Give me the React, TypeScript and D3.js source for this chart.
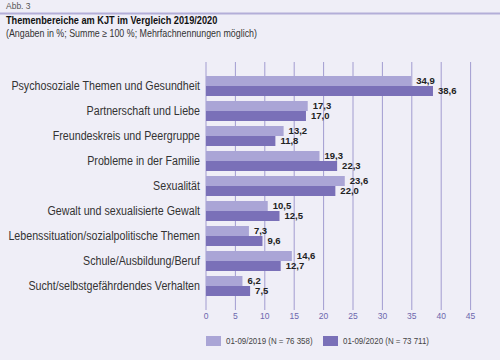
import * as React from 'react';
import { useEffect, useRef } from 'react';
import * as d3 from 'd3';

// Data
const categories = [
  'Psychosoziale Themen und Gesundheit',
  'Partnerschaft und Liebe',
  'Freundeskreis und Peergruppe',
  'Probleme in der Familie',
  'Sexualität',
  'Gewalt und sexualisierte Gewalt',
  'Lebenssituation/sozialpolitische Themen',
  'Schule/Ausbildung/Beruf',
  'Sucht/selbstgefährdendes Verhalten',
];
const values2019 = [34.9, 17.3, 13.2, 19.3, 23.6, 10.5, 7.3, 14.6, 6.2];
const values2020 = [38.6, 17.0, 11.8, 22.3, 22.0, 12.5, 9.6, 12.7, 7.5];
const seriesLabels = ['01-09/2019 (N = 76 358)', '01-09/2020 (N = 73 711)'];
const xTicks = [0, 5, 10, 15, 20, 25, 30, 35, 40, 45];

const W = 500;
const H = 360;
const FONT = '"Liberation Sans", Arial, sans-serif';
const colors = ['#aaa5d6', '#7a70b8'];

const fmt = (v: number) => v.toFixed(1).replace('.', ',');

// squeeze text horizontally to mimic the condensed face of the original
function condense(sel: d3.Selection<SVGTextElement, any, any, any>, factor: number) {
  sel.each(function () {
    const len = this.getComputedTextLength();
    d3.select(this).attr('textLength', len * factor).attr('lengthAdjust', 'spacingAndGlyphs');
  });
}

const App: React.FC = () => {
  const svgRef = useRef<SVGSVGElement>(null);

  useEffect(() => {
    const svg = d3.select(svgRef.current);
    svg.selectAll('*').remove();

    svg.append('rect').attr('width', W).attr('height', H).attr('fill', '#efeef7');

    // header
    svg.append('text').attr('x', 6).attr('y', 9)
      .attr('font-family', FONT).attr('font-size', 8.5).attr('fill', '#555')
      .text('Abb. 3');
    svg.append('rect').attr('x', 0).attr('y', 12.5).attr('width', W).attr('height', 2)
      .attr('fill', '#b3aed8');
    const title = svg.append('text').attr('x', 6).attr('y', 24)
      .attr('font-family', FONT).attr('font-size', 11).attr('font-weight', 'bold').attr('fill', '#111')
      .text('Themenbereiche am KJT im Vergleich 2019/2020');
    condense(title, 212 / 254);
    const sub = svg.append('text').attr('x', 6).attr('y', 37)
      .attr('font-family', FONT).attr('font-size', 10.5).attr('fill', '#333')
      .text('(Angaben in %; Summe ≥ 100 %; Mehrfachnennungen möglich)');
    condense(sub, 0.845);

    const x = d3.scaleLinear().domain([0, 45]).range([206, 470.6]);
    const y = d3.scaleBand<string>().domain(categories).range([73.5, 298.5]).paddingInner(0.2).paddingOuter(0.1);
    const inner = d3.scaleBand<number>().domain([0, 1]).range([0, y.bandwidth()]);

    // grid
    svg.append('g').selectAll('line').data(xTicks).enter().append('line')
      .attr('x1', d => x(d)).attr('x2', d => x(d))
      .attr('y1', 62).attr('y2', 310)
      .attr('stroke', '#a29cd0').attr('stroke-width', 1);

    svg.append('g').selectAll('text').data(xTicks).enter().append('text')
      .attr('x', d => x(d)).attr('y', 319)
      .attr('text-anchor', 'middle')
      .attr('font-family', FONT).attr('font-size', 8.5).attr('fill', '#6d67ad')
      .text(d => String(d));

    // category labels
    const cats = svg.append('g').selectAll('text').data(categories).enter().append('text')
      .attr('x', 200).attr('y', d => (y(d) ?? 0) + y.bandwidth() / 2)
      .attr('dy', '0.35em')
      .attr('text-anchor', 'end')
      .attr('font-family', FONT).attr('font-size', 12).attr('fill', '#333')
      .text(d => d);
    condense(cats as any, 0.89);

    const series = [values2019, values2020];
    series.forEach((vals, s) => {
      const g = svg.append('g');
      g.selectAll('rect').data(vals).enter().append('rect')
        .attr('x', x(0))
        .attr('y', (_, i) => (y(categories[i]) ?? 0) + (inner(s) ?? 0))
        .attr('width', d => x(d) - x(0))
        .attr('height', inner.bandwidth())
        .attr('fill', colors[s]);
      g.selectAll('text').data(vals).enter().append('text')
        .attr('x', d => x(d) + 5)
        .attr('y', (_, i) => (y(categories[i]) ?? 0) + (inner(s) ?? 0) + inner.bandwidth() / 2)
        .attr('dy', '0.35em')
        .attr('font-family', FONT).attr('font-size', 9.5).attr('font-weight', 'bold').attr('fill', '#222')
        .text(d => fmt(d));
    });

    // legend
    const lx = [206, 323];
    seriesLabels.forEach((t, i) => {
      svg.append('rect').attr('x', lx[i]).attr('y', 336).attr('width', 15).attr('height', 10)
        .attr('fill', colors[i]);
      const lt = svg.append('text').attr('x', lx[i] + 20).attr('y', 341).attr('dy', '0.35em')
        .attr('font-family', FONT).attr('font-size', 9).attr('fill', '#444')
        .text(t);
      condense(lt, 0.88);
    });
  }, []);

  return <svg ref={svgRef} width={W} height={H} style={{ display: 'block', position: 'absolute', left: 0, top: 0 }} />;
};

export default App;
